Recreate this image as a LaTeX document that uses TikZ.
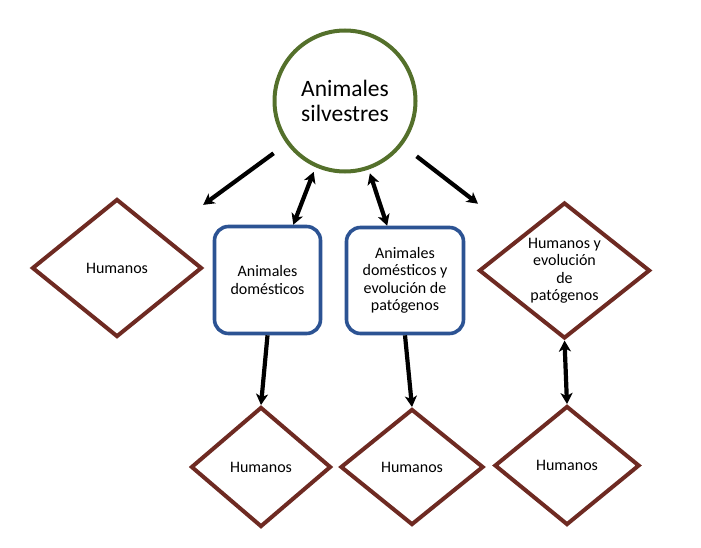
\documentclass[tikz,border=0pt]{standalone}
\usepackage{fontspec}
\setmainfont{Carlito}
\usetikzlibrary{shapes.geometric, arrows.meta, positioning}

\definecolor{wildgreen}{HTML}{54702B}
\definecolor{domblue}{HTML}{2C5393}
\definecolor{humbrown}{HTML}{6E2A22}

\begin{document}
\begin{tikzpicture}[
        x=1pt, y=-1pt,
        >={Stealth[length=11pt, width=12pt, inset=3pt]},
        wild/.style={circle, draw=wildgreen, line width=4pt, minimum size=141pt, inner sep=0pt, align=center, font=\fontsize{23.5}{25}\selectfont},
        domestic/.style={rectangle, draw=domblue, line width=3.6pt, rounded corners=14pt, align=center, inner sep=0pt, font=\fontsize{16}{17.5}\selectfont},
        human/.style={diamond, draw=humbrown, line width=4pt, aspect=1.2, inner sep=0pt, align=center, font=\fontsize{16}{17.5}\selectfont},
        arrow/.style={->, line width=4.2pt, draw=black},
        both/.style={<->, line width=4.2pt, draw=black}
    ]
        \useasboundingbox (0,0) rectangle (701,548);

        \node[wild] (wild) at (345,101) {Animales\\silvestres};
        \node[human, minimum width=170pt, minimum height=138pt] (hum1) at (117,268) {Humanos};
        \node[domestic, minimum width=106pt, minimum height=107pt] (dom1) at (267.5,280) {Animales\\domésticos};
        \node[domestic, minimum width=117pt, minimum height=106pt] (dom2) at (405,280.5) {Animales\\domésticos y\\evolución de\\patógenos};
        \node[human, minimum width=171pt, minimum height=136pt] (hum5) at (564.5,270.5) {Humanos y\\evolución\\de\\patógenos};
        \node[human, minimum width=140pt, minimum height=120pt] (hum2) at (261,467) {Humanos};
        \node[human, minimum width=143pt, minimum height=116pt] (hum3) at (412,467) {Humanos};
        \node[human, minimum width=145pt, minimum height=119pt] (hum4) at (567,465.5) {Humanos};

        \draw[arrow, shorten <=16pt, shorten >=50pt] (wild) -- (hum1);
        \draw[arrow, shorten <=18pt, shorten >=53pt] (wild) -- (hum5);
        \draw[both, shorten <=5pt] (wild.246) -- (dom1.65);
        \draw[both, shorten <=4pt] (wild.289) -- (dom2.108);
        \draw[arrow] (dom1.south) -- (hum2.north);
        \draw[arrow] (dom2.south) -- (hum3.north);
        \draw[both] (hum5.south) -- (hum4.north);
    \end{tikzpicture}
\end{document}
